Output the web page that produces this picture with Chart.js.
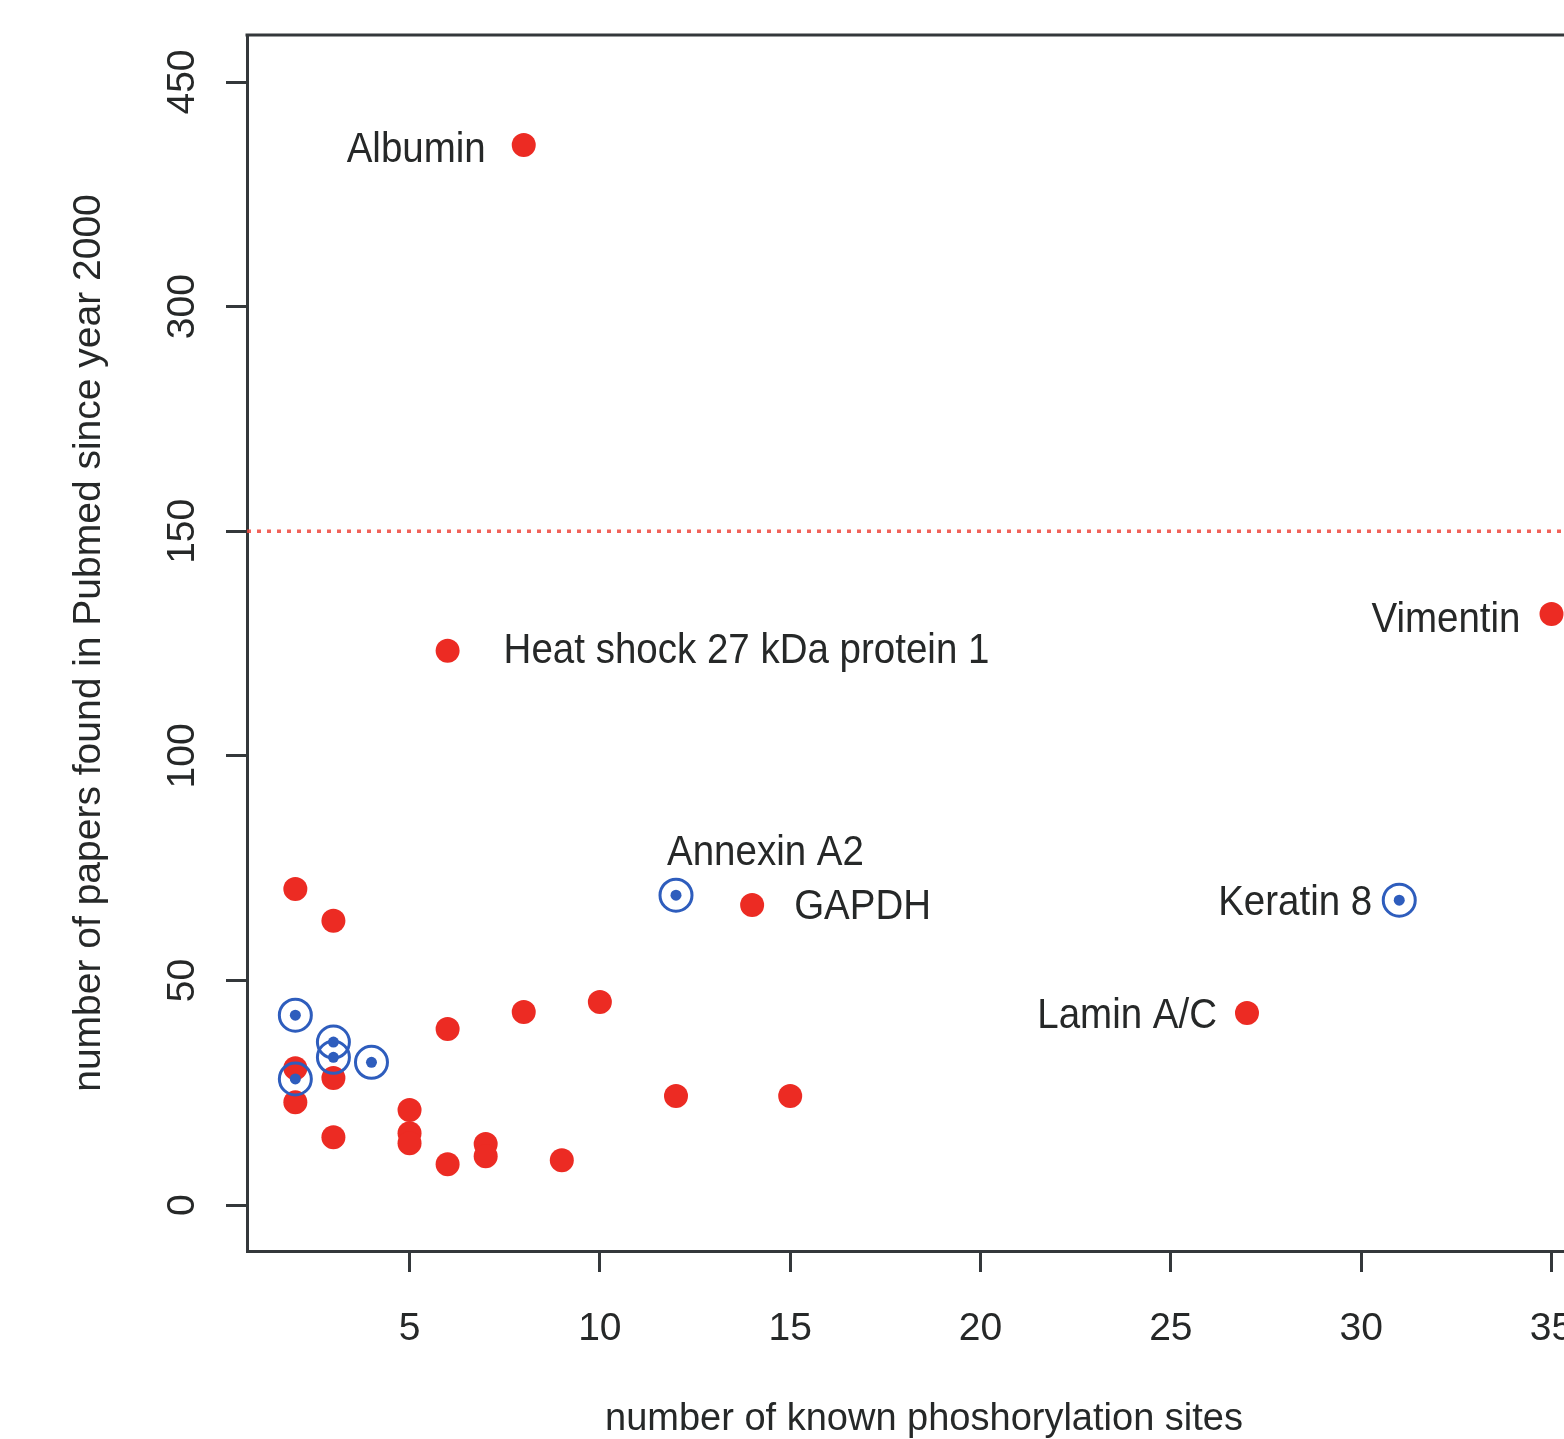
<!DOCTYPE html>
<html><head><meta charset="utf-8">
<script src="https://cdn.jsdelivr.net/npm/chart.js@4/dist/chart.umd.min.js"></script>
<style>
html,body{margin:0;padding:0;background:#fff;overflow:hidden;width:1564px;height:1439px}
#wrap{position:relative;width:1620px;height:1439px}
canvas{display:block}
</style></head>
<body><div id="wrap"><canvas id="c" width="1620" height="1439"></canvas></div>
<script>
// ---------- data ----------
const RED_X = [8, 6, 35, 14, 27, 2, 3, 8, 10, 6, 2, 2, 3, 3, 5, 5, 5, 6, 7, 7, 9, 12, 15];
const RED_Y = [408, 123.4, 131.6, 66.8, 42.8, 70.4, 63.3, 43, 45.2, 39.2, 30.5, 22.9, 28.3, 15.1, 21.2, 16, 13.8, 9.1, 13.6, 10.9, 10, 24.3, 24.3];
const BLUE_X = [12, 31, 2, 3, 3, 4, 2];
const BLUE_Y = [69.0, 67.9, 42.3, 36.3, 32.9, 31.8, 28.1];
const LABEL_TEXT = ['Albumin', 'Heat shock 27 kDa protein 1', 'Vimentin', 'GAPDH', 'Lamin A/C', 'Annexin A2', 'Keratin 8'];
const LABEL_X = [8, 6, 35, 14, 27, 12, 31];
const LABEL_Y = [408, 123.4, 131.6, 66.8, 42.8, 69.0, 67.9];
const X_TICKS = [5, 10, 15, 20, 25, 30, 35];
const Y_TICKS = [0, 50, 100, 150, 300, 450];
const THRESHOLD = 150;
const X_RANGE = [0.73, 36.3];
const Y_RANGE = [-10.2, 481.4];
const Y_BREAK = 150;      // axis is compressed above this value
const Y_COMPRESS = 3;     // compression factor above the break
const X_TITLE = 'number of known phoshorylation sites';
const Y_TITLE = 'number of papers found in Pubmed since year 2000';

// ---------- styles / layout ----------
const FONT = "'Liberation Sans', Arial, sans-serif";
const TEXT_COLOR = '#262828';
const AXIS_COLOR = '#34383b';
const RED = '#ec2b23';
const BLUE = '#2e5dbd';
// label placement: [dx, dy, align]
const LABEL_LAYOUT = [
  [-38, 5, 'right'], [56, 1, 'left'], [-31, 6, 'right'], [42, 2, 'left'],
  [-30, 3, 'right'], [-9, -42, 'left'], [-27, 3, 'right']
];

// ---------- broken linear scale ----------
class BrokenLinearScale extends Chart.LinearScale {
  _fwd(v) { return v <= Y_BREAK ? v : Y_BREAK + (v - Y_BREAK) / Y_COMPRESS; }
  _inv(t) { return t <= Y_BREAK ? t : Y_BREAK + (t - Y_BREAK) * Y_COMPRESS; }
  determineDataLimits() {
    super.determineDataLimits();
    this.min = this._fwd(this.min);
    this.max = this._fwd(this.max);
  }
  buildTicks() { return Y_TICKS.map(v => ({ value: v })); }
  getPixelForValue(v) { return super.getPixelForValue(this._fwd(v)); }
  getValueForPixel(p) { return this._inv(super.getValueForPixel(p)); }
}
BrokenLinearScale.id = 'brokenLinear';
BrokenLinearScale.defaults = Chart.LinearScale.defaults;
Chart.register(BrokenLinearScale);

const pts = (xs, ys) => xs.map((x, i) => ({ x, y: ys[i] }));

const decor = {
  id: 'decor',
  afterDraw(chart) {
    const ctx = chart.ctx;
    const { left, right, top } = chart.chartArea;
    const xs = chart.scales.x, ys = chart.scales.y;
    ctx.save();
    // top and right frame
    ctx.strokeStyle = AXIS_COLOR;
    ctx.lineWidth = 3;
    ctx.beginPath();
    ctx.moveTo(left - 1.5, top);
    ctx.lineTo(right, top);
    ctx.lineTo(right, chart.chartArea.bottom);
    ctx.stroke();
    // rotated y tick labels
    ctx.fillStyle = TEXT_COLOR;
    ctx.font = '39px ' + FONT;
    ctx.textAlign = 'center';
    ctx.textBaseline = 'middle';
    ys.ticks.forEach((t, i) => {
      const py = ys.getPixelForTick(i);
      ctx.save();
      ctx.translate(183, py);
      ctx.rotate(-Math.PI / 2);
      ctx.fillText(t.label != null ? t.label : String(t.value), 0, 0);
      ctx.restore();
    });
    // point annotations
    ctx.font = '38.5px ' + FONT;
    LABEL_TEXT.forEach((txt, i) => {
      const [dx, dy, al] = LABEL_LAYOUT[i];
      const px = xs.getPixelForValue(LABEL_X[i]) + dx;
      const py = ys.getPixelForValue(LABEL_Y[i]) + dy;
      ctx.save();
      ctx.translate(px, py);
      ctx.scale(1, 1.1);
      ctx.textAlign = al;
      ctx.textBaseline = 'middle';
      ctx.fillText(txt, 0, 0);
      ctx.restore();
    });
    ctx.restore();
  }
};

new Chart(document.getElementById('c'), {
  type: 'scatter',
  data: {
    datasets: [
      { label: 'threshold', data: [{ x: X_RANGE[0], y: THRESHOLD }, { x: X_RANGE[1], y: THRESHOLD }],
        showLine: true, borderColor: 'rgba(238,70,60,0.85)', borderWidth: 3.5, borderDash: [4, 6],
        pointRadius: 0, order: 4 },
      { label: 'proteins', data: pts(RED_X, RED_Y), backgroundColor: RED, borderWidth: 0,
        pointRadius: 12, order: 3 },
      { label: 'ring', data: pts(BLUE_X, BLUE_Y), backgroundColor: 'rgba(0,0,0,0)', borderColor: BLUE,
        borderWidth: 3, pointRadius: 16, order: 2 },
      { label: 'dot', data: pts(BLUE_X, BLUE_Y), backgroundColor: BLUE, borderWidth: 0,
        pointRadius: 5.5, order: 1 }
    ]
  },
  options: {
    responsive: false,
    devicePixelRatio: 1,
    animation: false,
    events: [],
    layout: { padding: { left: 0, top: 35, right: 11, bottom: 0 } },
    plugins: { legend: { display: false }, tooltip: { enabled: false } },
    scales: {
      x: {
        type: 'linear', position: 'bottom', min: X_RANGE[0], max: X_RANGE[1],
        afterBuildTicks: s => { s.ticks = X_TICKS.map(v => ({ value: v })); },
        afterFit: s => { s.height = 188; },
        grid: { display: true, drawOnChartArea: false, drawTicks: true, tickLength: 21,
                tickWidth: 3, tickColor: AXIS_COLOR },
        border: { display: true, color: AXIS_COLOR, width: 3 },
        ticks: { font: { family: FONT, size: 39 }, color: TEXT_COLOR, padding: 34, maxRotation: 0,
                 autoSkip: false },
        title: { display: true, text: X_TITLE, font: { family: FONT, size: 38, lineHeight: 1 },
                 color: TEXT_COLOR, padding: { top: 0, bottom: 0 } }
      },
      y: {
        type: 'brokenLinear', position: 'left', min: Y_RANGE[0], max: Y_RANGE[1],
        afterFit: s => { s.width = 247; },
        grid: { display: true, drawOnChartArea: false, drawTicks: true, tickLength: 21,
                tickWidth: 3, tickColor: AXIS_COLOR },
        border: { display: true, color: AXIS_COLOR, width: 3 },
        ticks: { display: false },
        title: { display: true, text: Y_TITLE, font: { family: FONT, size: 39, lineHeight: 1 },
                 color: TEXT_COLOR, padding: { top: 70, bottom: 0 } }
      }
    }
  },
  plugins: [decor]
});
</script>
</body></html>
